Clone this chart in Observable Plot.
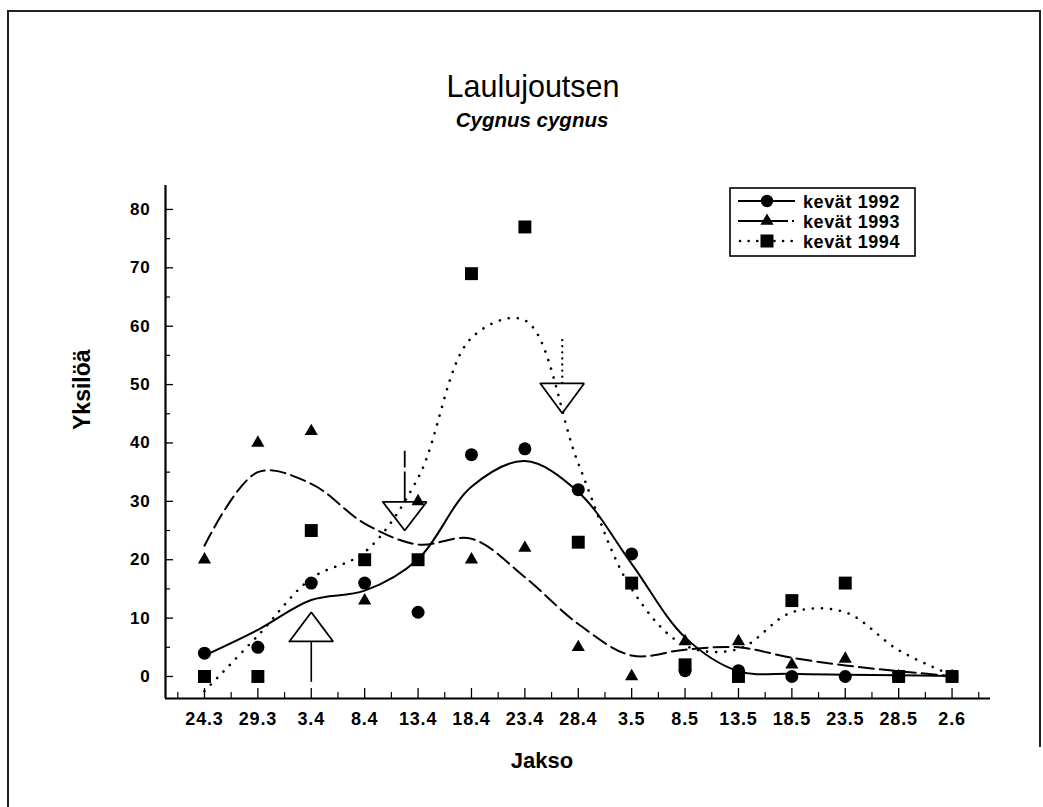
<!DOCTYPE html>
<html>
<head>
<meta charset="utf-8">
<script src="https://cdn.jsdelivr.net/npm/d3@7"></script>
<script src="https://cdn.jsdelivr.net/npm/@observablehq/plot@0.6"></script>
<style>
  html, body { margin: 0; padding: 0; background: #fff; }
  #page { position: relative; width: 1043px; height: 807px; overflow: hidden; background: #fff; }
  #page svg { position: absolute; left: 0; top: 0; z-index: 0; }
  #border { position: absolute; left: 7px; top: 10px; width: 1034px; height: 737px; z-index: 2;
            border-left: 2px solid #222; border-top: 2px solid #222; border-right: 2px solid #222;
            box-sizing: border-box; pointer-events: none; }
  #edge { position: absolute; left: 7px; top: 10px; width: 2px; height: 800px; z-index: 2; background: #222; }
  .tk text { letter-spacing: 0.8px; }
</style>
</head>
<body>
<div id="page"><div id="border"></div><div id="edge"></div></div>
<script>
// Counting periods (day.month), spring counts of whooper swans
const periods = ["24.3", "29.3", "3.4", "8.4", "13.4", "18.4", "23.4", "28.4",
                 "3.5", "8.5", "13.5", "18.5", "23.5", "28.5", "2.6"];
const obs1992 = [4, 5, 16, 16, 11, 38, 39, 32, 21, 1, 1, 0, 0, 0, 0];
const obs1993 = [20, 40, 42, 13, 30, 20, 22, 5, 0, 6, 6, 2, 3, 0, 0];
const obs1994 = [0, 0, 25, 20, 20, 69, 77, 23, 16, 2, 0, 13, 16, 0, 0];

// Smoothed trend levels at each period
const trend1992 = [3.6, 8.0, 13.1, 14.7, 20.1, 32.5, 36.9, 31.6, 19.3, 6.7, 0.9, 0.45, 0.3, 0.2, 0.1];
const trend1993 = [22.4, 35.0, 33.0, 26.2, 22.6, 23.6, 17.0, 9.0, 3.6, 4.6, 5.0, 3.2, 1.9, 0.9, 0.1];
const trend1994 = [-2.5, 7.0, 16.8, 21.3, 34.0, 58.0, 61.0, 36.5, 15.0, 5.3, 4.7, 11.0, 11.0, 4.5, 0.2];

// Migration arrows: period position, head tip, head base, tail end
const arrowAt   = [2, 3.75, 6.7];
const arrowTip  = [11, 25, 45.1];
const arrowBase = [6, 29.9, 50.2];
const arrowTail = [-1, 38.6, 58.2];

const yTicks = [0, 10, 20, 30, 40, 50, 60, 70, 80];
const seriesNames = ["kevät 1992", "kevät 1993", "kevät 1994"];

// ---- layout ----
const W = 1043, H = 807;
const mL = 165, mR = 53, mT = 185, mB = 109;
const innerW = W - mL - mR, innerH = H - mT - mB;
const xDom = [-0.73, 14.72], yDom = [-3.77, 84.1];
const font = "'Liberation Sans', Arial, Helvetica, sans-serif";

const pts = vals => vals.map((v, i) => ({i, v}));
const idx = periods.map((_, i) => i);
const halfIdx = d3.range(-0.5, 14.6, 1);
const minorY = d3.range(5, 80, 10);

const arrows = arrowAt.map((at, k) => ({k, at, tip: arrowTip[k], base: arrowBase[k], tail: arrowTail[k]}));
const headHalf = 0.41; // half width of the open arrow heads, in period units
const heads = arrows.flatMap(a => [
  {k: a.k, x: a.at - headHalf, y: a.base},
  {k: a.k, x: a.at + headHalf, y: a.base},
  {k: a.k, x: a.at, y: a.tip},
  {k: a.k, x: a.at - headHalf, y: a.base}
]);

const dotted = {strokeDasharray: "0.1 9", strokeLinecap: "round", strokeWidth: 2.6};
const dashed = {strokeDasharray: "15 6", strokeWidth: 2};

const chart = Plot.plot({
  width: W, height: H,
  marginLeft: mL, marginRight: mR, marginTop: mT, marginBottom: mB,
  x: {type: "linear", domain: xDom},
  y: {type: "linear", domain: yDom},
  style: {fontFamily: font, background: "white", color: "black"},
  marks: [
    // axis lines
    Plot.ruleX([xDom[0]], {stroke: "black", strokeWidth: 2.2}),
    Plot.ruleY([yDom[0]], {stroke: "black", strokeWidth: 2.2}),
    // inward ticks
    Plot.tickX(idx, {x: d => d, insetTop: innerH - 10, stroke: "black", strokeWidth: 1.3}),
    Plot.tickX(halfIdx, {x: d => d, insetTop: innerH - 6, stroke: "black", strokeWidth: 1.2}),
    Plot.tickY(yTicks, {y: d => d, insetRight: innerW - 8, stroke: "black", strokeWidth: 1.3}),
    Plot.tickY(minorY, {y: d => d, insetRight: innerW - 5, stroke: "black", strokeWidth: 1.2}),
    // tick labels
    Plot.axisX({ticks: idx, tickFormat: i => periods[i], tickSize: 0, tickPadding: 14,
                fontSize: 18, fontWeight: "bold", label: null, className: "tk"}),
    Plot.axisY({ticks: yTicks, tickSize: 0, tickPadding: 15,
                fontSize: 17, fontWeight: "bold", label: null, className: "tk"}),
    // axis titles and heading
    Plot.text(["Yksilöä"], {frameAnchor: "left", dx: -83, dy: -12, rotate: -90,
                            fontSize: 23, fontWeight: "bold", lineAnchor: "middle"}),
    Plot.text(["Jakso"], {frameAnchor: "bottom", dx: -36, dy: 62,
                          fontSize: 22, fontWeight: "bold", lineAnchor: "middle"}),
    Plot.text(["Laulujoutsen"], {frameAnchor: "top", dx: -45, dy: -98,
                                 fontSize: 30.5, lineAnchor: "middle"}),
    Plot.text(["Cygnus cygnus"], {frameAnchor: "top", dx: -46, dy: -65,
                                  fontSize: 20.5, fontWeight: "bold", fontStyle: "italic", lineAnchor: "middle"}),
    // smoothed trends
    Plot.line(pts(trend1992), {x: "i", y: "v", curve: "catmull-rom", stroke: "black", strokeWidth: 2}),
    Plot.line(pts(trend1993), {x: "i", y: "v", curve: "catmull-rom", stroke: "black", ...dashed}),
    Plot.line(pts(trend1994), {x: "i", y: "v", curve: "catmull-rom", stroke: "black", ...dotted}),
    // migration arrows
    Plot.ruleX(arrows.filter(a => a.k === 0), {x: "at", y1: "base", y2: "tail", stroke: "black", strokeWidth: 1.6}),
    Plot.ruleX(arrows.filter(a => a.k === 1), {x: "at", y1: "base", y2: "tail", stroke: "black", strokeWidth: 1.8, strokeDasharray: "30 4"}),
    Plot.ruleX(arrows.filter(a => a.k === 2), {x: "at", y1: "base", y2: "tail", stroke: "black", strokeWidth: 2.3, strokeLinecap: "round", strokeDasharray: "0.1 6"}),
    Plot.line(heads, {x: "x", y: "y", z: "k", stroke: "black", strokeWidth: 1.8, strokeLinejoin: "miter"}),
    // observations
    Plot.dot(pts(obs1992), {x: "i", y: "v", symbol: "circle", r: 6.5, fill: "black"}),
    Plot.dot(pts(obs1993), {x: "i", y: "v", symbol: "triangle", r: 4.9, fill: "black"}),
    Plot.dot(pts(obs1994), {x: "i", y: "v", symbol: "square", r: 7.3, fill: "black"})
  ]
});

document.getElementById("page").appendChild(chart);

// legend box
const svg = d3.select(chart);
const lg = svg.append("g").attr("font-family", font).attr("text-anchor", "start");
lg.append("rect").attr("x", 730).attr("y", 188).attr("width", 185).attr("height", 68)
  .attr("fill", "white").attr("stroke", "black").attr("stroke-width", 1.6);
const rowY = [201, 221, 241];
// 1992: solid with circle
lg.append("line").attr("x1", 738).attr("x2", 795).attr("y1", rowY[0]).attr("y2", rowY[0])
  .attr("stroke", "black").attr("stroke-width", 2);
lg.append("circle").attr("cx", 767).attr("cy", rowY[0]).attr("r", 6.2).attr("fill", "black");
// 1993: dashed with triangle
lg.append("line").attr("x1", 738).attr("x2", 795).attr("y1", rowY[1]).attr("y2", rowY[1])
  .attr("stroke", "black").attr("stroke-width", 2).attr("stroke-dasharray", "50 4 2 100");
lg.append("path").attr("d", d3.symbol(d3.symbolTriangle, 4.9 * 4.9 * Math.PI)())
  .attr("transform", `translate(767,${rowY[1]})`).attr("fill", "black");
// 1994: dotted with square
lg.append("line").attr("x1", 740).attr("x2", 792).attr("y1", rowY[2]).attr("y2", rowY[2])
  .attr("stroke", "black").attr("stroke-width", 2.6).attr("stroke-linecap", "round")
  .attr("stroke-dasharray", "0.1 8.5");
lg.append("rect").attr("x", 760.5).attr("y", rowY[2] - 6.5).attr("width", 13).attr("height", 13).attr("fill", "black");
seriesNames.forEach((s, k) => {
  lg.append("text").attr("x", 803).attr("y", rowY[k] + 6.5)
    .attr("font-size", 18).attr("font-weight", "bold").attr("letter-spacing", 0.6)
    .attr("fill", "black").text(s);
});
</script>
</body>
</html>
